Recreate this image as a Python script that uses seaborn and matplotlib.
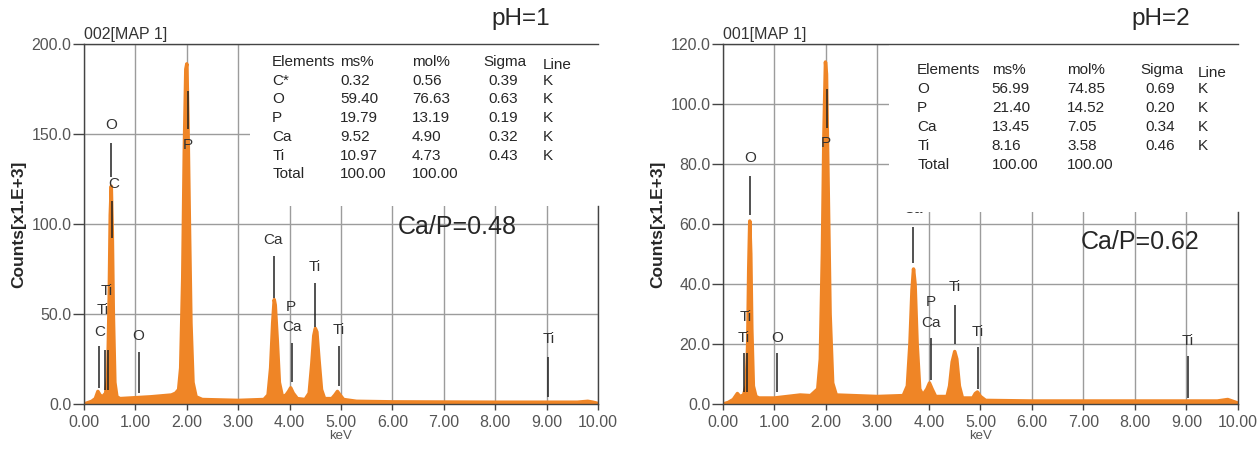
import matplotlib
matplotlib.use("Agg")
import matplotlib.pyplot as plt
import seaborn as sns
import pandas as pd

# ---- spectrum pH=1 (keV, counts x1000)
kev_ph1 = [0.00, 0.05, 0.15, 0.22, 0.27, 0.31, 0.36, 0.42, 0.46, 0.49, 0.51, 0.53, 0.55, 0.57,
           0.60, 0.64, 0.70, 1.00, 1.30, 1.50, 1.70, 1.78, 1.84, 1.88, 1.92, 1.95, 1.98, 2.00,
           2.02, 2.05, 2.08, 2.12, 2.18, 2.30, 3.00, 3.50, 3.58, 3.63, 3.67, 3.70, 3.72, 3.76,
           3.80, 3.86, 3.93, 3.98, 4.02, 4.07, 4.15, 4.30, 4.38, 4.43, 4.47, 4.50, 4.53, 4.57,
           4.62, 4.68, 4.82, 4.88, 4.93, 4.98, 5.05, 5.30, 6.00, 8.00, 9.60, 9.80, 9.90, 10.00]
counts_ph1 = [0, 0.5, 1.5, 3, 7, 5, 4, 6, 15, 60, 105, 121, 95, 50,
              12, 4, 3, 3.5, 4, 4.5, 5, 6, 8, 20, 70, 140, 186, 189,
              160, 100, 45, 12, 4, 2.5, 2, 2.5, 5, 20, 45, 58, 55, 35,
              12, 4, 5, 7, 9, 6, 3, 2.5, 6, 22, 38, 42, 40, 25,
              8, 3, 3, 5, 7, 5, 2.5, 1.5, 1.2, 1, 1, 1.5, 1, 0.3]

# ---- spectrum pH=2
kev_ph2 = [0.00, 0.10, 0.20, 0.28, 0.33, 0.40, 0.45, 0.48, 0.50, 0.52, 0.54, 0.56, 0.59, 0.64,
           0.70, 1.00, 1.50, 1.70, 1.84, 1.89, 1.93, 1.96, 1.99, 2.01, 2.04, 2.08, 2.13, 2.20,
           3.00, 3.50, 3.58, 3.63, 3.67, 3.70, 3.73, 3.77, 3.82, 3.88, 3.96, 4.01, 4.06, 4.13,
           4.35, 4.40, 4.45, 4.50, 4.54, 4.59, 4.65, 4.85, 4.90, 4.94, 5.00, 5.10, 6.00, 9.60,
           9.80, 10.00]
counts_ph2 = [0, 0.5, 1.5, 3.5, 2.5, 3, 6, 20, 45, 61, 50, 25, 6, 2.5,
              2, 2, 3, 2.8, 5, 15, 50, 90, 114, 110, 75, 30, 7, 3,
              2.5, 2.8, 6, 20, 38, 45, 40, 20, 5, 3, 5, 7, 5, 2.5,
              2.5, 6, 14, 17.5, 15, 6, 2, 2, 3.5, 4, 2.5, 1.2, 1, 1,
              1.5, 0.3]

# ---- peak markers (keV, bottom, top) and labels (keV, y, text)
mark_x_ph1 = [0.29, 0.41, 0.47, 0.53, 0.54, 1.07, 2.02, 3.70, 4.04, 4.49, 4.96, 9.03]
mark_y0_ph1 = [9, 8, 8, 126, 92, 6, 153, 59, 12, 43, 10, 4]
mark_y1_ph1 = [32, 30, 30, 145, 113, 29, 174, 82, 34, 67, 32, 26]
lab_x_ph1 = [0.31, 0.37, 0.45, 0.53, 0.57, 1.05, 2.01, 3.68, 4.03, 4.04, 4.49, 4.96, 9.03]
lab_y_ph1 = [40, 52, 63, 155, 122, 38, 144, 91, 54, 43, 76, 41, 36]
lab_t_ph1 = ["C", "Ti", "Ti", "O", "C", "O", "P", "Ca", "P", "Ca", "Ti", "Ti", "Ti"]

mark_x_ph2 = [0.41, 0.47, 0.52, 1.05, 2.02, 3.69, 4.04, 4.50, 4.95, 9.03]
mark_y0_ph2 = [4, 4, 63, 4, 92, 47, 8, 20, 5, 2]
mark_y1_ph2 = [17, 17, 76, 17, 105, 59, 22, 33, 19, 16]
lab_x_ph2 = [0.40, 0.45, 0.52, 1.05, 2.00, 3.69, 4.04, 4.04, 4.50, 4.95, 9.03]
lab_y_ph2 = [22, 29, 82, 22, 87, 65, 34, 27, 39, 24, 21]
lab_t_ph2 = ["Ti", "Ti", "O", "O", "P", "Ca", "P", "Ca", "Ti", "Ti", "Ti"]

# ---- quantification tables
table_header = ["Elements", "ms%", "mol%", "Sigma", "Line"]
elem_ph1 = ["C*", "O", "P", "Ca", "Ti", "Total"]
ms_ph1 = ["0.32", "59.40", "19.79", "9.52", "10.97", "100.00"]
mol_ph1 = ["0.56", "76.63", "13.19", "4.90", "4.73", "100.00"]
sigma_ph1 = ["0.39", "0.63", "0.19", "0.32", "0.43", ""]
line_ph1 = ["K", "K", "K", "K", "K", ""]

elem_ph2 = ["O", "P", "Ca", "Ti", "Total"]
ms_ph2 = ["56.99", "21.40", "13.45", "8.16", "100.00"]
mol_ph2 = ["74.85", "14.52", "7.05", "3.58", "100.00"]
sigma_ph2 = ["0.69", "0.20", "0.34", "0.46", ""]
line_ph2 = ["K", "K", "K", "K", ""]

ORANGE = "#EF8526"
GRID = "#9c9c9c"
TXT = "#333333"
FS_TAB = 11

sns.set_style("white")
plt.rcParams["font.family"] = ["Liberation Sans", "DejaVu Sans"]

fig = plt.figure(figsize=(12.58, 4.51), dpi=100)


def draw_panel(rect, kev, counts, ymax, ystep, box_bottom, mx, my0, my1, lx, ly, lt,
               elem, ms, mol, sig, line, tab_x, tab_y0, tab_dy, map_name, ph, ratio, ratio_pos):
    ax = fig.add_axes(rect)
    df = pd.DataFrame({"keV": kev, "counts": counts})
    ax.fill_between(df["keV"], 0, df["counts"], color=ORANGE, lw=0, zorder=1.2)
    sns.lineplot(data=df, x="keV", y="counts", ax=ax, color=ORANGE, lw=2.5, zorder=1.2)

    ax.set_xlim(0, 10)
    ax.set_ylim(0, ymax)
    ax.set_xticks([i for i in range(11)])
    ax.set_xticklabels([f"{i:.2f}" for i in range(11)])
    yt = [i * ystep for i in range(int(ymax / ystep) + 1)]
    ax.set_yticks(yt)
    ax.set_yticklabels([f"{v:.1f}" for v in yt])
    ax.grid(True, color=GRID, lw=1)
    ax.set_axisbelow(True)
    ax.tick_params(axis="y", length=8, width=1, color="#444444", labelsize=11.5,
                   labelcolor="#555555", left=True, pad=1)
    ax.tick_params(axis="x", length=4, width=1, color="#444444", labelsize=11.5,
                   labelcolor="#555555", bottom=True, pad=4)
    for s in ax.spines.values():
        s.set_color("#444444")
        s.set_linewidth(1)
    ax.spines["right"].set_bounds(0, box_bottom)

    # white box under the table hides the grid
    ax.add_patch(plt.Rectangle((3.23, box_bottom), 6.77, ymax - box_bottom,
                               facecolor="white", edgecolor="none", zorder=1.5))

    ax.set_xlabel("keV", fontsize=9.5, color="#555555", labelpad=0)
    ax.set_ylabel("Counts[x1.E+3]", fontsize=12.5, fontweight="bold", labelpad=4)

    ax.vlines(mx, my0, my1, color="#222222", lw=1.1, zorder=3)
    for x, y, t in zip(lx, ly, lt):
        ax.text(x, y, t, ha="center", va="center", fontsize=11, color=TXT, zorder=1.4)

    # table
    for j, h in enumerate(table_header):
        dy = -0.008 if h == "Line" else 0
        ax.text(tab_x[j], tab_y0 + dy, h, transform=ax.transAxes, fontsize=FS_TAB,
                va="center", zorder=4)
    for i in range(len(elem)):
        y = tab_y0 - (i + 1) * tab_dy
        ax.text(tab_x[0], y, elem[i], transform=ax.transAxes, fontsize=FS_TAB, va="center", zorder=4)
        ax.text(tab_x[1], y, ms[i], transform=ax.transAxes, fontsize=FS_TAB, va="center", zorder=4)
        ax.text(tab_x[2], y, mol[i], transform=ax.transAxes, fontsize=FS_TAB, va="center", zorder=4)
        ax.text(tab_x[3] + 0.01, y, sig[i], transform=ax.transAxes, fontsize=FS_TAB, va="center", zorder=4)
        ax.text(tab_x[4], y, line[i], transform=ax.transAxes, fontsize=FS_TAB, va="center", zorder=4)

    ax.text(0.0, 1.005, map_name, transform=ax.transAxes, fontsize=11.5, color="#333333",
            ha="left", va="bottom")
    ax.text(0.85, 1.07, ph, transform=ax.transAxes, fontsize=17.5, ha="center", va="center")
    ax.text(ratio_pos[0], ratio_pos[1], ratio, transform=ax.transAxes, fontsize=18,
            ha="center", va="center", zorder=4)
    return ax


draw_panel([0.0668, 0.1042, 0.4086, 0.7982], kev_ph1, counts_ph1, 200, 50, 110,
           mark_x_ph1, mark_y0_ph1, mark_y1_ph1, lab_x_ph1, lab_y_ph1, lab_t_ph1,
           elem_ph1, ms_ph1, mol_ph1, sigma_ph1, line_ph1,
           [0.366, 0.498, 0.638, 0.776, 0.893], 0.950, 0.052,
           "002[MAP 1]", "pH=1", "Ca/P=0.48", (0.726, 0.492))

draw_panel([0.5747, 0.1042, 0.4094, 0.7982], kev_ph2, counts_ph2, 120, 20, 64,
           mark_x_ph2, mark_y0_ph2, mark_y1_ph2, lab_x_ph2, lab_y_ph2, lab_t_ph2,
           elem_ph2, ms_ph2, mol_ph2, sigma_ph2, line_ph2,
           [0.377, 0.522, 0.668, 0.810, 0.922], 0.928, 0.053,
           "001[MAP 1]", "pH=2", "Ca/P=0.62", (0.81, 0.45))

fig.savefig("out.png", dpi=100)
